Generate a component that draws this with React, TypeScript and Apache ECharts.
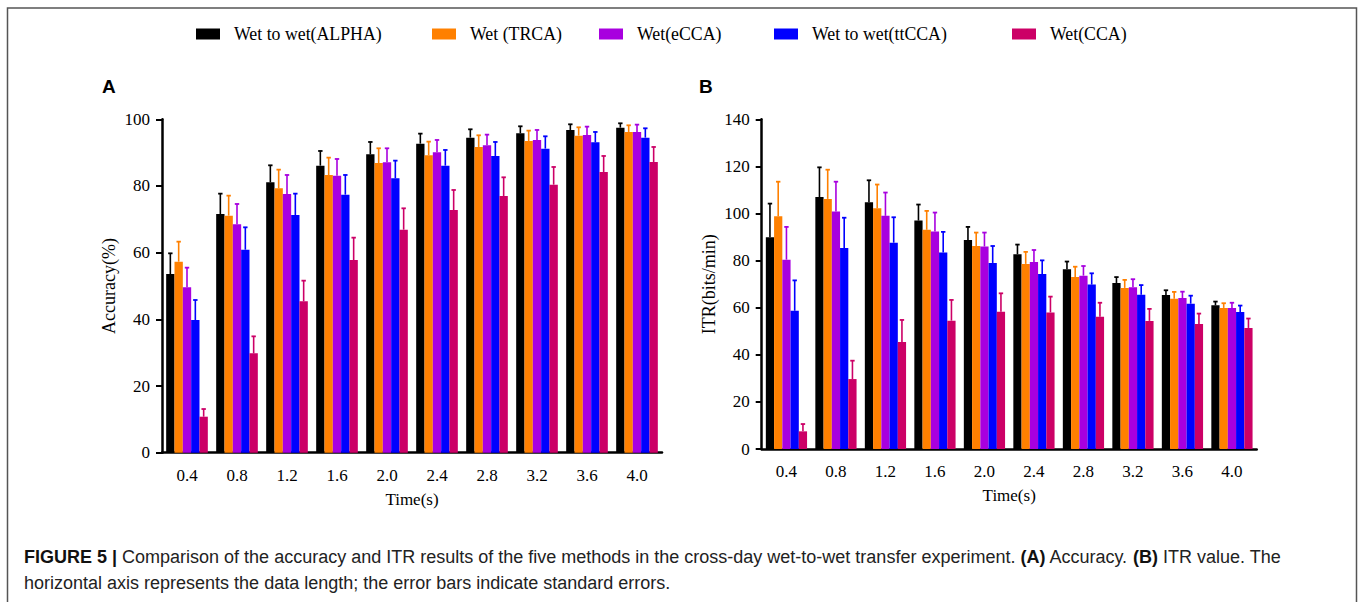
import React, { useEffect, useRef } from "react";
import * as echarts from "echarts";

const categories = ["0.4", "0.8", "1.2", "1.6", "2.0", "2.4", "2.8", "3.2", "3.6", "4.0"];
const methodNames = ["Wet to wet(ALPHA)", "Wet (TRCA)", "Wet(eCCA)", "Wet to wet(ttCCA)", "Wet(CCA)"];
const methodColors = ["#000000", "#FF8000", "#A800DF", "#0000FF", "#CC0066"];

// Panel A: accuracy (%) mean and standard error
const accAlpha = [53.6, 71.6, 81.1, 86.1, 89.5, 92.7, 94.5, 95.8, 96.8, 97.5];
const accAlphaSE = [6.2, 6.1, 5.1, 4.4, 3.7, 3.0, 2.5, 2.1, 1.7, 1.3];
const accTrca = [57.3, 71.1, 79.3, 83.3, 86.9, 89.2, 91.7, 93.5, 95.1, 96.2];
const accTrcaSE = [6.0, 6.0, 5.6, 5.2, 4.4, 4.1, 3.5, 3.1, 2.5, 2.0];
const accEcca = [49.6, 68.5, 77.6, 83.1, 87.1, 90.1, 92.2, 93.8, 95.3, 96.2];
const accEccaSE = [5.9, 6.1, 5.7, 5.0, 4.2, 3.7, 3.2, 3.0, 2.5, 2.2];
const accTtcca = [39.8, 60.9, 71.3, 77.4, 82.3, 86.1, 89.0, 91.2, 93.1, 94.5];
const accTtccaSE = [6.0, 6.7, 6.4, 5.9, 5.3, 4.7, 4.2, 3.7, 3.1, 2.8];
const accCca = [10.8, 29.8, 45.4, 57.8, 66.9, 72.8, 77.0, 80.4, 84.2, 87.2];
const accCcaSE = [2.3, 5.1, 6.2, 6.7, 6.4, 6.0, 5.6, 5.3, 4.8, 4.5];

// Panel B: ITR (bits/min) mean and standard error
const itrAlpha = [89.9, 107.0, 104.8, 97.0, 88.8, 82.7, 76.3, 70.5, 65.4, 61.0];
const itrAlphaSE = [14.3, 12.6, 9.3, 6.8, 5.5, 4.1, 3.3, 2.5, 2.0, 1.6];
const itrTrca = [98.8, 106.2, 102.2, 93.1, 86.2, 78.6, 73.0, 68.4, 63.8, 59.9];
const itrTrcaSE = [14.7, 12.4, 10.1, 8.0, 5.7, 5.1, 4.4, 3.4, 2.9, 2.0];
const itrEcca = [80.4, 100.8, 99.0, 92.4, 86.0, 79.4, 73.6, 68.7, 64.1, 59.9];
const itrEccaSE = [13.9, 12.7, 9.9, 8.0, 5.9, 5.1, 4.1, 3.4, 2.7, 2.2];
const itrTtcca = [58.7, 85.4, 87.6, 83.4, 79.0, 74.3, 69.8, 65.5, 61.7, 58.2];
const itrTtccaSE = [12.9, 12.8, 10.8, 8.8, 7.2, 5.8, 4.8, 4.1, 3.4, 2.7];
const itrCca = [7.5, 29.7, 45.4, 54.5, 58.3, 58.0, 56.2, 54.4, 53.1, 51.4];
const itrCcaSE = [3.1, 7.8, 9.4, 8.8, 7.8, 6.7, 5.9, 5.1, 4.4, 4.0];

const accTicksMax = 100;
const itrTicksMax = 140;

const captionLine1 =
  "{b|FIGURE 5 |} Comparison of the accuracy and ITR results of the five methods in the cross-day wet-to-wet transfer experiment. {b|(A)} Accuracy. {b|(B)} ITR value. The";
const captionLine2 = "horizontal axis represents the data length; the error bars indicate standard errors.";

const SERIF = "'Liberation Serif', 'Times New Roman', serif";
const SANS = "'Liberation Sans', Arial, sans-serif";
const GAP_RATIO = 0.167;

export default function App() {
  const ref = useRef<HTMLDivElement>(null);

  useEffect(() => {
    if (!ref.current) return;
    const chart = echarts.init(ref.current, null, { renderer: "svg" });

    const accMeans = [accAlpha, accTrca, accEcca, accTtcca, accCca];
    const accSEs = [accAlphaSE, accTrcaSE, accEccaSE, accTtccaSE, accCcaSE];
    const itrMeans = [itrAlpha, itrTrca, itrEcca, itrTtcca, itrCca];
    const itrSEs = [itrAlphaSE, itrTrcaSE, itrEccaSE, itrTtccaSE, itrCcaSE];

    const errData = (means: number[][], ses: number[][]) => {
      const out: number[][] = [];
      means.forEach((arr, k) => arr.forEach((v, i) => out.push([i, v, ses[k][i], k])));
      return out;
    };

    const renderErr = (params: any, api: any) => {
      const ci = api.value(0);
      const mean = api.value(1);
      const se = api.value(2);
      const k = api.value(3);
      const p0 = api.coord([ci, mean]);
      const p1 = api.coord([ci, mean + se]);
      const band = api.size([1, 0])[0];
      const bw = (band * (1 - GAP_RATIO)) / 5;
      const x = p0[0] + (k - 2) * bw;
      const color = methodColors[k];
      return {
        type: "group",
        children: [
          { type: "line", shape: { x1: x, y1: p0[1], x2: x, y2: p1[1] }, style: { stroke: color, lineWidth: 1.6 } },
          { type: "line", shape: { x1: x - 2.2, y1: p1[1], x2: x + 2.2, y2: p1[1] }, style: { stroke: color, lineWidth: 1.8 } },
        ],
      };
    };

    const axisCommon = {
      axisLine: { lineStyle: { color: "#000", width: 2.5 } },
      axisTick: { lineStyle: { color: "#000", width: 2 }, length: 6 },
    };

    const xAxis = (idx: number) => ({
      type: "category",
      gridIndex: idx,
      data: categories,
      name: "Time(s)",
      nameLocation: "middle",
      nameGap: 38,
      nameTextStyle: { fontFamily: SERIF, fontSize: 17, color: "#000" },
      axisLabel: { fontFamily: SERIF, fontSize: 17, color: "#000", margin: 14 },
      ...axisCommon,
      axisTick: { ...axisCommon.axisTick, alignWithLabel: true },
    });

    const yAxis = (idx: number, max: number, name: string) => ({
      type: "value",
      gridIndex: idx,
      min: 0,
      max,
      interval: 20,
      name,
      nameLocation: "middle",
      nameGap: 44,
      nameTextStyle: { fontFamily: SERIF, fontSize: 18, color: "#000" },
      axisLabel: { fontFamily: SERIF, fontSize: 17, color: "#000", margin: 12 },
      splitLine: { show: false },
      ...axisCommon,
      axisTick: { ...axisCommon.axisTick, show: true },
      axisLine: { ...axisCommon.axisLine, show: true },
    });

    const barSeries: any[] = [];
    [accMeans, itrMeans].forEach((means, g) => {
      means.forEach((arr, k) => {
        barSeries.push({
          type: "bar",
          name: methodNames[k],
          xAxisIndex: g,
          yAxisIndex: g,
          data: arr,
          barGap: "0%",
          barCategoryGap: "16.7%",
          itemStyle: { color: methodColors[k] },
        });
      });
    });

    const legendLefts = [196, 432, 599, 774, 1012];
    const legends = methodNames.map((n, k) => ({
      data: [n],
      left: legendLefts[k],
      top: 25,
      padding: 0,
      icon: "rect",
      itemWidth: 24,
      itemHeight: 11,
      selectedMode: false,
      textStyle: { fontFamily: SERIF, fontSize: 17.8, color: "#000", padding: [0, 0, 0, 9] },
    }));

    chart.setOption({
      animation: false,
      backgroundColor: "#fff",
      legend: legends,
      grid: [
        { left: 162, top: 119.3, width: 500, height: 333.4, containLabel: false },
        { left: 761.7, top: 119.3, width: 495, height: 329.7, containLabel: false },
      ],
      xAxis: [xAxis(0), xAxis(1)],
      yAxis: [yAxis(0, accTicksMax, "Accuracy(%)"), yAxis(1, itrTicksMax, "ITR(bits/min)")],
      series: [
        ...barSeries,
        {
          type: "custom",
          name: "errA",
          xAxisIndex: 0,
          yAxisIndex: 0,
          renderItem: renderErr,
          data: errData(accMeans, accSEs),
          z: 5,
        },
        {
          type: "custom",
          name: "errB",
          xAxisIndex: 1,
          yAxisIndex: 1,
          renderItem: renderErr,
          data: errData(itrMeans, itrSEs),
          z: 5,
        },
      ],
      graphic: [
        {
          type: "rect",
          shape: { x: 7.5, y: 8, width: 1349, height: 620 },
          style: { fill: "none", stroke: "#555", lineWidth: 1.5 },
          silent: true,
        },
        {
          type: "text",
          left: 102,
          top: 77,
          style: { text: "A", font: `bold 19px ${SANS}`, fill: "#000" },
        },
        {
          type: "text",
          left: 699,
          top: 77,
          style: { text: "B", font: `bold 19px ${SANS}`, fill: "#000" },
        },
        {
          type: "text",
          left: 24,
          top: 544,
          style: {
            text: captionLine1 + "\n" + captionLine2,
            fontFamily: SANS,
            fontSize: 18,
            lineHeight: 26,
            fill: "#222",
            rich: {
              b: { fontFamily: SANS, fontSize: 18, fontWeight: "bold", fill: "#111", lineHeight: 26 },
            },
          },
        },
      ],
    });

    return () => chart.dispose();
  }, []);

  return (
    <div
      ref={ref}
      style={{ position: "fixed", left: 0, top: 0, width: 1358, height: 602 }}
    />
  );
}
